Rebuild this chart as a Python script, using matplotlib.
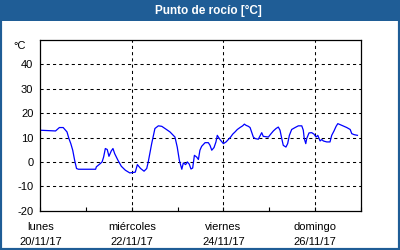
import matplotlib
matplotlib.use("Agg")
import matplotlib.pyplot as plt
from matplotlib.patches import Rectangle
from matplotlib.ticker import FixedLocator

# ---- data ----
hours = [0, 8, 10, 12, 14, 15, 16, 17, 18, 19, 20, 29, 29.4, 31.1, 32.4, 33.2, 34.1,
         35.1, 36.0, 37.2, 38.1, 39.0, 40.7, 42.5, 44.6, 46.9, 49.8, 50.9, 52.6, 54.4,
         55.8, 56.6, 58.4, 60.1, 61.9, 63.7, 65.4, 68.0, 70.6, 71.8, 72.9, 74.2, 75.0,
         76.2, 77.1, 78.1, 79.0, 79.9, 80.8, 82.0, 82.9, 83.7, 84.6, 86.4, 88.1, 89.0,
         89.9, 91.1, 92.1, 92.8, 94.2, 96.0, 97.4, 98.6, 99.8, 100.9, 102.1, 103.3,
         104.7, 106.1, 107.0, 107.9, 109.1, 110.0, 111.7, 112.6, 114.3, 116.1, 116.9,
         119.6, 120.8, 122.2, 123.6, 124.8, 125.7, 126.6, 127.4, 128.8, 129.7, 130.6,
         131.8, 133.6, 135.3, 137.1, 137.9, 138.4, 139.2, 139.7, 140.9, 142.3, 143.5,
         144.6, 145.5, 146.7, 147.6, 148.4, 150.2, 151.9, 152.8, 154.0, 155.1, 156.0,
         158.1, 160.7, 162.5, 163.3, 164.5, 166.3]
dew_point = [13.0, 12.7, 14.1, 14.1, 12.3, 9.6, 7.5, 4.8, 0.7, -2.7, -3.0, -3.0, -2.0,
             -0.9, 0.0, 2.0, 5.5, 5.1, 2.3, 4.5, 5.5, 3.4, 0.7, -1.8, -3.4, -4.5, -4.2,
             -1.1, -2.7, -3.8, -2.7, 0.0, 7.5, 13.7, 14.8, 14.6, 13.7, 12.3, 10.2, 6.1,
             0.7, -3.0, -0.4, -1.1, 0.0, -0.9, -2.9, -2.5, 2.7, 2.0, 1.0, 4.8, 6.4, 7.9,
             7.9, 6.8, 4.8, 5.9, 8.2, 10.9, 9.2, 7.5, 8.2, 9.2, 10.2, 11.4, 12.3, 13.3,
             14.1, 14.8, 15.5, 15.0, 14.6, 14.1, 10.2, 9.6, 9.3, 12.0, 10.5, 10.2, 11.4,
             12.7, 13.7, 14.3, 13.0, 9.6, 6.8, 6.1, 7.5, 10.9, 13.3, 14.1, 14.8, 14.8,
             13.0, 9.6, 7.5, 9.6, 11.9, 12.0, 11.4, 10.2, 10.9, 8.6, 9.2, 8.6, 8.2, 8.2,
             10.9, 12.7, 14.6, 15.7, 15.0, 14.1, 13.3, 11.6, 11.2, 10.9]
day_names = ["lunes", "miércoles", "viernes", "domingo"]
day_dates = ["20/11/17", "22/11/17", "24/11/17", "26/11/17"]
major_hours = [0, 48, 96, 144]
minor_hours = [24, 72, 120, 168]
y_ticks = [-20, -10, 0, 10, 20, 30, 40]
title = "Punto de rocío [°C]"
unit = "°C"

blue = "#1f5d96"
plt.rcParams['font.family'] = ['Liberation Sans', 'DejaVu Sans']

fig = plt.figure(figsize=(4, 2.5), dpi=100, facecolor="white")
ax = fig.add_axes([40.3/400, 1-210.7/250, (360.7-40.3)/400, (210.7-40)/250])

ax.plot(hours, dew_point, color="#0000ff", lw=0.9)
ax.set_xlim(0, 168)
ax.set_ylim(-20, 50)

ax.set_xticks(major_hours)
ax.set_xticklabels([f"{n}\n{d}" for n, d in zip(day_names, day_dates)],
                   fontsize=8, linespacing=1.6)
ax.xaxis.set_minor_locator(FixedLocator(minor_hours))
ax.set_yticks(y_ticks)
ax.set_yticklabels([str(v) for v in y_ticks], fontsize=8)
ax.tick_params(axis='both', which='both', direction='in', length=3, width=0.8,
               color='black', labelcolor='black')
ax.tick_params(axis='y', length=0, pad=5)
ax.tick_params(axis='x', pad=8)

for v in y_ticks[1:]:
    ax.axhline(v, color='black', lw=0.75, linestyle=(0, (3, 3)), zorder=1)
for h in major_hours[1:]:
    ax.axvline(h, color='black', lw=0.75, linestyle=(0, (3, 3)), zorder=1)

for s in ax.spines.values():
    s.set_linewidth(0.9)
    s.set_color('black')

ax.text(-0.045, 0.965, unit, transform=ax.transAxes, ha='right', va='center', fontsize=8)

# title bar and frame
fig.patches.append(Rectangle((0, 1-21/250), 1, 21/250, transform=fig.transFigure,
                             facecolor=blue, edgecolor='none', zorder=0))
fig.patches.append(Rectangle((0, 0), 1, 1, transform=fig.transFigure, fill=False,
                             edgecolor=blue, lw=3, zorder=5))
fig.text(0.52, 1-10.5/250, title, color='white', fontsize=8.5, fontweight='bold',
         ha='center', va='center')

fig.savefig("out.png", dpi=100, facecolor="white")
